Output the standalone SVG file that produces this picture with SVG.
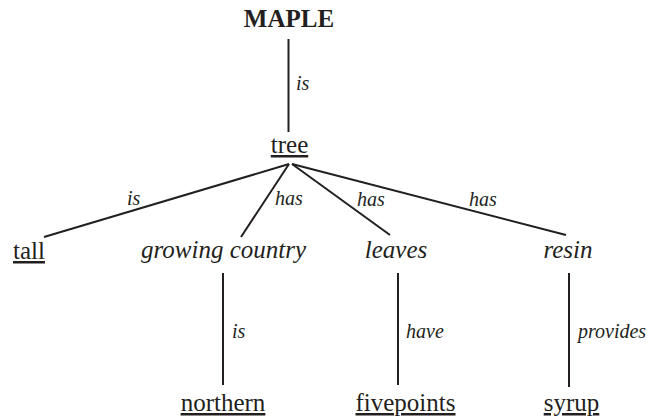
<svg xmlns="http://www.w3.org/2000/svg" width="654" height="419" viewBox="0 0 654 419">
<style>
text{font-family:"Liberation Serif","Times New Roman",serif;fill:#231f20}
.n{font-size:25px;text-anchor:middle}
.b{font-weight:bold}
.i{font-style:italic}
.u{text-decoration:underline}
.l{font-size:20px;font-style:italic}
#connectors line{stroke:#231f20;stroke-width:2}
</style>
<rect width="654" height="419" fill="#fff"/>
<g id="connectors">
<line x1="288.5" y1="39" x2="288.5" y2="132"/>
<line x1="289" y1="164" x2="44" y2="237"/>
<line x1="289" y1="164" x2="241" y2="237"/>
<line x1="292" y1="164" x2="390" y2="235"/>
<line x1="292" y1="164" x2="566" y2="235"/>
<line x1="223" y1="273" x2="223" y2="385"/>
<line x1="398" y1="273" x2="398" y2="385"/>
<line x1="569" y1="273" x2="569" y2="387"/>
<text class="l" x="296" y="90">is</text>
<text class="l" x="127" y="205">is</text>
<text class="l" x="275" y="205">has</text>
<text class="l" x="357" y="206">has</text>
<text class="l" x="469" y="206">has</text>
<text class="l" x="232" y="338">is</text>
<text class="l" x="406" y="338">have</text>
<text class="l" x="578" y="338">provides</text>
</g>
<g id="maple"><text class="n b" x="289" y="26.5">MAPLE</text></g>
<g id="tree"><text class="n u" x="289.5" y="153">tree</text></g>
<g id="tall"><text class="n u" x="29" y="259">tall</text></g>
<g id="growing-country"><text class="n i" x="223.5" y="258">growing country</text></g>
<g id="leaves"><text class="n i" x="396" y="258">leaves</text></g>
<g id="resin"><text class="n i" x="568" y="258">resin</text></g>
<g id="northern"><text class="n u" x="223" y="411">northern</text></g>
<g id="fivepoints"><text class="n u" x="405.5" y="411">fivepoints</text></g>
<g id="syrup"><text class="n u" x="571.5" y="411">syrup</text></g>
</svg>
